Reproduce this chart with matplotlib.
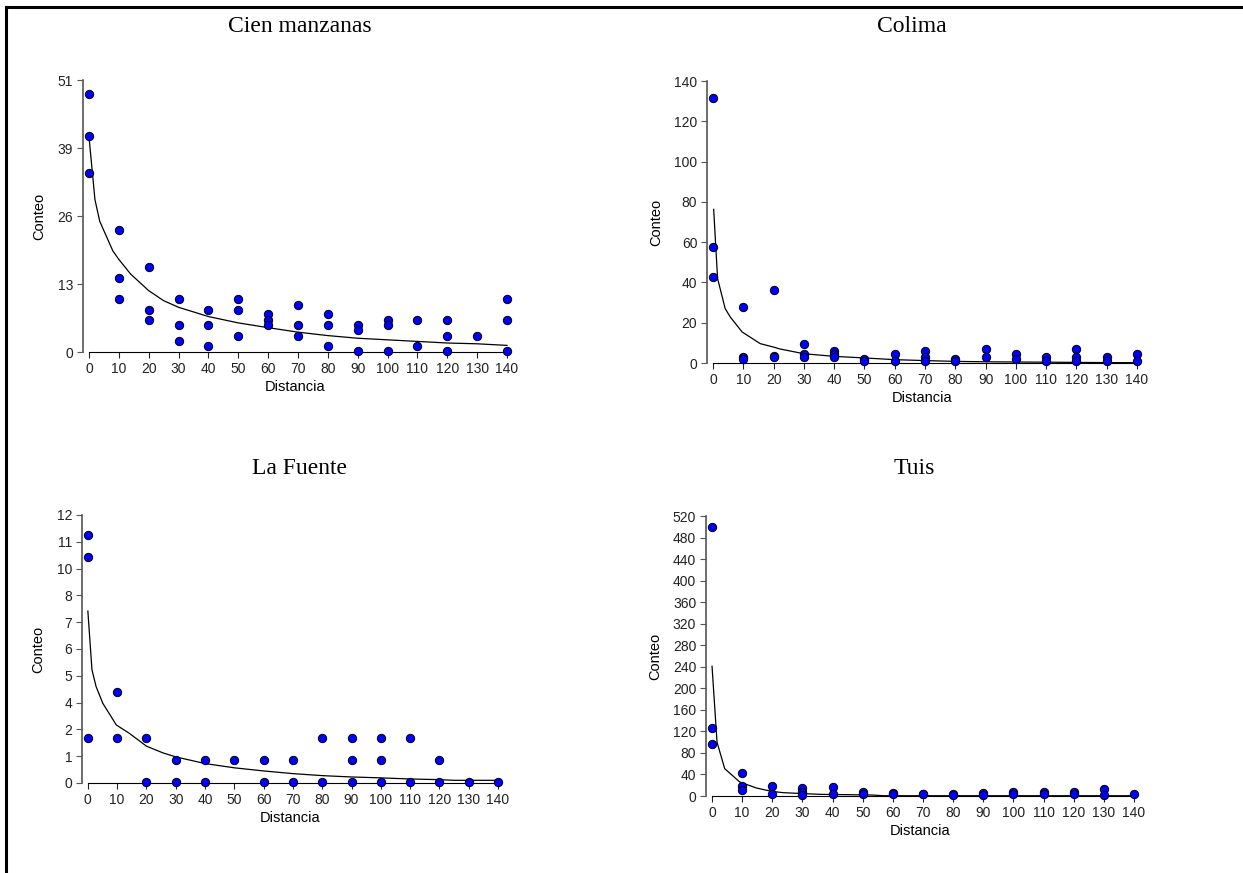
import numpy as np
import matplotlib
matplotlib.use("Agg")
import matplotlib.pyplot as plt
from matplotlib.lines import Line2D

plt.rcParams['font.family'] = ['Liberation Sans', 'DejaVu Sans']

# ---- data ----
dist_ticks = [0, 10, 20, 30, 40, 50, 60, 70, 80, 90, 100, 110, 120, 130, 140]

# Cien manzanas
cm_x = [0, 0, 0, 10, 10, 10, 20, 20, 20, 30, 30, 30, 40, 40, 40, 50, 50, 50,
        60, 60, 60, 70, 70, 70, 80, 80, 80, 90, 90, 90, 100, 100, 100,
        110, 110, 120, 120, 120, 130, 140, 140, 140]
cm_y = [48.8, 40.8, 33.9, 23.0, 14.0, 10.0, 16.0, 7.9, 6.1, 10.0, 5.1, 2.1,
        7.9, 5.1, 1.1, 10.0, 7.9, 3.1, 7.1, 6.1, 5.1, 8.9, 5.1, 3.1,
        7.1, 5.1, 1.1, 5.1, 4.1, 0.1, 6.1, 5.1, 0.1, 6.1, 1.1,
        6.1, 3.1, 0.1, 3.1, 10.0, 6.1, 0.1]
cm_fit_x = [0, 2, 3.6, 8, 10, 14, 20, 25, 30, 40, 50, 60, 70, 80, 90, 100,
            110, 120, 130, 140]
cm_fit_y = [40.7, 28.8, 24.7, 19.1, 17.5, 14.7, 11.6, 9.7, 8.45, 6.7, 5.5,
            4.6, 3.75, 3.1, 2.6, 2.3, 2.0, 1.7, 1.55, 1.25]
cm_yticks = [0, 12.85, 25.7, 38.55, 51.4]
cm_ylabels = ['0', '13', '26', '39', '51']

# Colima
co_x = [0, 0, 0, 10, 10, 10, 20, 20, 20, 30, 30, 30, 40, 40, 40, 50, 50,
        60, 60, 70, 70, 70, 80, 80, 90, 90, 100, 100, 110, 110,
        120, 120, 120, 130, 130, 140, 140]
co_y = [131.8, 57.4, 42.5, 27.8, 3.1, 2.0, 36.1, 3.5, 3.0, 9.6, 4.6, 3.0,
        5.8, 4.5, 3.0, 2.0, 1.0, 4.6, 1.0, 5.8, 3.0, 1.0, 2.0, 1.0,
        7.0, 3.0, 4.6, 2.0, 3.0, 1.0, 7.0, 3.0, 1.0, 3.0, 1.0, 4.6, 1.0]
co_fit_x = [0.2, 1.5, 4, 5.7, 9.6, 15.6, 20, 22, 30, 40, 50, 60, 70, 80,
            90, 100, 110, 120, 130, 140]
co_fit_y = [76.3, 41.9, 27.0, 22.8, 15.4, 9.6, 7.9, 7.0, 4.6, 3.3, 2.5,
            1.66, 1.2, 0.8, 0.6, 0.5, 0.4, 0.3, 0.2, 0.15]
co_yticks = [0, 20, 40, 60, 80, 100, 120, 140]
co_ylabels = ['0', '20', '40', '60', '80', '100', '120', '140']

# La Fuente
lf_x = [0, 0, 0, 10, 10, 20, 20, 30, 30, 40, 40, 50, 60, 60, 70, 70,
        80, 80, 90, 90, 90, 100, 100, 100, 110, 110, 120, 120, 130, 140]
lf_y = [11.1, 10.1, 2.03, 4.07, 2.03, 2.03, 0.03, 1.04, 0.03, 1.04, 0.03,
        1.04, 1.04, 0.03, 1.04, 0.03, 2.03, 0.03, 2.03, 1.04, 0.03,
        2.03, 1.04, 0.03, 2.03, 0.03, 1.04, 0.03, 0.03, 0.03]
lf_fit_x = [0, 1.4, 2.8, 5.1, 9.7, 14.2, 20, 25.6, 30, 40, 50, 60, 70, 80,
            90, 100, 110, 120, 125, 140]
lf_fit_y = [7.7, 5.07, 4.32, 3.57, 2.6, 2.22, 1.65, 1.35, 1.17, 0.87, 0.68,
            0.54, 0.42, 0.33, 0.27, 0.23, 0.18, 0.15, 0.12, 0.12]
lf_yticks = list(np.linspace(0, 12, 11))
lf_ylabels = ['0', '1', '2', '4', '5', '6', '7', '8', '10', '11', '12']

# Tuis
tu_x = [0, 0, 0, 10, 10, 10, 20, 20, 30, 30, 30, 40, 40, 50, 50, 60, 60,
        70, 70, 80, 80, 90, 90, 100, 100, 110, 110, 120, 120, 130, 130, 140]
tu_y = [500, 126.5, 97.3, 42.8, 18, 11.8, 18, 4.3, 14.3, 6.8, 1.9, 16.1,
        4.3, 7.4, 4.3, 6.2, 3.1, 4.3, 3.0, 4.3, 1.9, 6.2, 2.5, 7.4, 4.3,
        8.0, 4.3, 8.0, 3.0, 12.4, 1.9, 4.3]
tu_fit_x = [0, 1.66, 4.2, 9.2, 14.7, 19.7, 23.6, 35.7, 53, 57, 80, 100,
            120, 140]
tu_fit_y = [241, 100, 50.8, 26, 14.9, 8.7, 6.2, 3.1, 1.9, 0.5, 0.5, 0.5,
            0.5, 0.5]
tu_yticks = list(range(0, 521, 40))
tu_ylabels = [str(v) for v in tu_yticks]

panels = [
    ("Cien manzanas", cm_x, cm_y, cm_fit_x, cm_fit_y, 51.4, cm_yticks, cm_ylabels,
     [83, 80, 507, 352], (300, 27)),
    ("Colima", co_x, co_y, co_fit_x, co_fit_y, 140, co_yticks, co_ylabels,
     [707, 81, 1137, 363], (912, 27)),
    ("La Fuente", lf_x, lf_y, lf_fit_x, lf_fit_y, 12, lf_yticks, lf_ylabels,
     [82, 515, 498, 783], (300, 468)),
    ("Tuis", tu_x, tu_y, tu_fit_x, tu_fit_y, 520, tu_yticks, tu_ylabels,
     [706, 516, 1134, 796], (914, 468)),
]

W, H = 1243, 873
fig = plt.figure(figsize=(W / 100, H / 100), dpi=100)

for title, px, py, fx, fy, ymax, yt, ylab, box, tpos in panels:
    l, t, r, b = box
    ax = fig.add_axes([l / W, 1 - b / H, (r - l) / W, (b - t) / H])
    ax.plot(fx, fy, color='black', lw=0.9, clip_on=False)
    ax.scatter(px, py, s=36, color='#0000ff', edgecolors='black',
               linewidths=0.7, zorder=3, clip_on=False)
    ax.set_xlim(-2, 140)
    ax.set_ylim(0, ymax)
    ax.set_xticks(dist_ticks)
    ax.set_yticks(yt)
    ax.set_yticklabels(ylab)
    for s in ['top', 'right']:
        ax.spines[s].set_visible(False)
    ax.spines['bottom'].set_bounds(0, 140)
    ax.spines['bottom'].set_color('black')
    ax.spines['left'].set_color('#555555')
    ax.spines['left'].set_linewidth(1.2)
    ax.tick_params(axis='both', direction='out', length=4, width=0.8,
                   labelsize=10, pad=3, colors='#222222')
    ax.tick_params(axis='y', color='#555555')
    ax.set_xlabel('Distancia', fontsize=10.5, labelpad=3)
    ax.set_ylabel('Conteo', fontsize=10.5, labelpad=8)
    fig.text(tpos[0] / W, 1 - tpos[1] / H, title, ha='center', va='center',
             fontsize=17, family='Liberation Serif')

# outer frame (top and left only)
fig.add_artist(Line2D([6 / W, 6 / W], [0, 1 - 7 / H], color='black', lw=2.2,
                      transform=fig.transFigure))
fig.add_artist(Line2D([6 / W, 1], [1 - 7 / H, 1 - 7 / H], color='black', lw=2.2,
                      transform=fig.transFigure))

fig.savefig('out.png', dpi=100, facecolor='white')
